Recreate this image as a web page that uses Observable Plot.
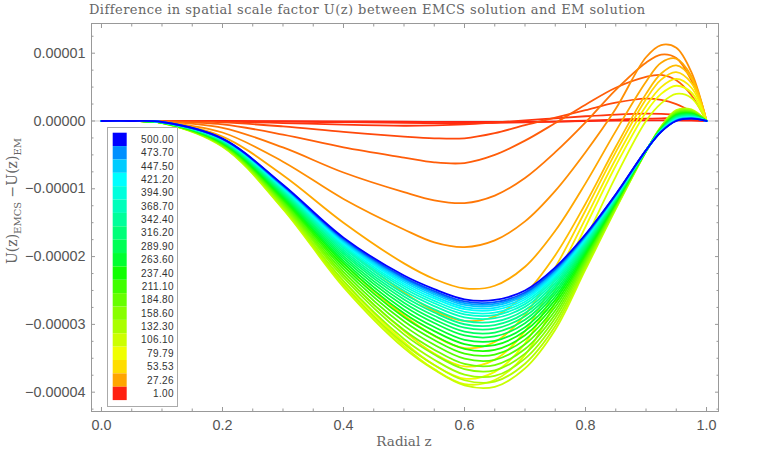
<!DOCTYPE html>
<html><head><meta charset="utf-8">
<script src="https://cdn.jsdelivr.net/npm/d3@7"></script>
<script src="https://cdn.jsdelivr.net/npm/@observablehq/plot@0.6"></script>
<style>
body{margin:0;background:#fff;}
#title{height:18px;font:13px "DejaVu Serif",serif;letter-spacing:0.45px;color:#666;padding-left:89px;line-height:20px;white-space:nowrap}
</style></head><body>
<div id="title">Difference in spatial scale factor U(z) between EMCS solution and EM solution</div>
<div id="chart"></div>
<script>
// radial positions
const zGrid = [0, 0.05, 0.1, 0.2, 0.3, 0.4, 0.5, 0.55, 0.6, 0.65, 0.7, 0.75, 0.8, 0.85, 0.9, 0.925, 0.95, 0.975, 1];
// parameter value of each curve
const params = [1, 3, 5, 9, 13, 18, 23, 28, 38, 50, 64, 80, 95,
  110, 127, 144, 161, 178, 195, 212, 229, 246, 263, 280, 297, 314, 331, 348, 365, 382, 399, 416, 433, 450, 467, 484, 500];
// U(z)_EMCS - U(z)_EM, in units of 1e-6, one row per curve
const curveValues = [
  [0,0,0,0,-0.02,-0.05,-0.1,-0.13,-0.15,-0.14,-0.12,-0.08,-0.02,0.05,0.1,0.1,0.08,0.05,0],
  [0,0,0,-0.02,-0.08,-0.18,-0.28,-0.3,-0.3,-0.26,-0.2,-0.1,0.05,0.2,0.35,0.4,0.38,0.25,0],
  [0,0,-0.01,-0.1,-0.3,-0.55,-0.7,-0.65,-0.5,-0.22,0.1,0.4,0.7,0.95,1.1,1.05,0.9,0.55,0],
  [0,0,-0.02,-0.2,-0.8,-1.6,-2.3,-2.55,-2.55,-1.8,-0.6,0.5,1.6,2.7,3.3,3.1,2.5,1.4,0],
  [0,0,-0.05,-0.5,-2.0,-3.9,-5.4,-6.1,-6.2,-5.0,-2.9,-0.3,2.4,4.9,6.5,6.8,6.0,3.8,0],
  [0,0,-0.1,-1.0,-3.9,-7.6,-10.5,-11.7,-12.1,-11.0,-8.4,-4.6,-0.2,4.6,8.6,9.8,9.3,6.0,0],
  [0,0,-0.15,-1.7,-6.0,-11.5,-16.0,-17.9,-18.6,-17.6,-14.8,-10.3,-4.6,1.8,9.4,11.2,10.8,7.2,0],
  [0,0,-0.15,-2.3,-8.0,-15.0,-21.0,-23.3,-24.7,-24.3,-21.5,-16.2,-9.2,-1.5,5.8,8.6,9.2,6.6,0],
  [0,0,-0.2,-2.8,-10.0,-18.5,-25.3,-28.0,-29.5,-28.8,-25.5,-19.8,-12.2,-3.8,4.0,7.0,8.2,6.3,0],
  [0,0,-0.22,-3.1,-11.3,-21.0,-28.7,-31.7,-33.5,-32.6,-28.6,-21.6,-13.2,-4.6,3.2,6.1,7.2,5.6,0],
  [0,0,-0.25,-3.4,-12.2,-22.7,-31.0,-34.3,-36.2,-35.2,-31.0,-23.2,-14.4,-5.6,2.2,5.0,6.2,4.9,0],
  [0,0,-0.27,-3.6,-12.7,-23.7,-32.6,-36.0,-38.0,-37.0,-32.8,-24.8,-15.6,-6.6,1.3,4.0,5.2,4.2,0],
  [0,0,-0.29,-3.7,-12.9,-24.2,-33.2,-36.6,-38.8,-38.2,-34.5,-26.8,-17.5,-8.2,0.0,2.6,4.0,3.4,0],
  [0,0,-0.3,-3.8,-13.0,-24.5,-33.5,-36.7,-39.0,-39.2,-36.5,-30.8,-21.9,-13.0,-4.5,-0.8,1.6,1.7,0],
  [0,0,-0.29,-3.73,-12.78,-24.06,-32.86,-35.99,-38.24,-38.43,-35.81,-30.25,-21.59,-12.87,-4.49,-0.85,1.5,1.62,0],
  [0,0,-0.28,-3.65,-12.55,-23.59,-32.16,-35.21,-37.41,-37.6,-35.06,-29.65,-21.25,-12.73,-4.48,-0.9,1.4,1.53,0],
  [0,0,-0.27,-3.57,-12.32,-23.11,-31.47,-34.44,-36.59,-36.77,-34.32,-29.05,-20.91,-12.58,-4.46,-0.95,1.3,1.44,0],
  [0,0,-0.26,-3.5,-12.1,-22.68,-30.83,-33.73,-35.83,-36.0,-33.63,-28.5,-20.6,-12.45,-4.45,-1.0,1.2,1.36,0],
  [0,0,-0.25,-3.43,-11.88,-22.24,-30.18,-33.01,-35.06,-35.23,-32.94,-27.95,-20.29,-12.32,-4.44,-1.05,1.1,1.28,0],
  [0,0,-0.24,-3.36,-11.67,-21.8,-29.54,-32.3,-34.3,-34.46,-32.25,-27.4,-19.98,-12.19,-4.43,-1.1,1.01,1.2,0],
  [0,0,-0.24,-3.29,-11.47,-21.4,-28.95,-31.64,-33.6,-33.76,-31.61,-26.89,-19.69,-12.07,-4.42,-1.14,0.92,1.13,0],
  [0,0,-0.23,-3.22,-11.27,-21.0,-28.36,-30.99,-32.9,-33.06,-30.98,-26.38,-19.4,-11.94,-4.4,-1.18,0.83,1.05,0],
  [0,0,-0.22,-3.16,-11.09,-20.63,-27.83,-30.39,-32.27,-32.42,-30.41,-25.92,-19.14,-11.83,-4.39,-1.22,0.75,0.98,0],
  [0,0,-0.21,-3.1,-10.91,-20.27,-27.29,-29.8,-31.63,-31.78,-29.83,-25.46,-18.88,-11.72,-4.38,-1.26,0.67,0.92,0],
  [0,0,-0.21,-3.05,-10.75,-19.94,-26.81,-29.26,-31.06,-31.2,-29.31,-25.05,-18.65,-11.63,-4.38,-1.3,0.6,0.86,0],
  [0,0,-0.2,-3.0,-10.59,-19.61,-26.33,-28.73,-30.49,-30.62,-28.8,-24.64,-18.42,-11.53,-4.37,-1.34,0.53,0.8,0],
  [0,0,-0.19,-2.95,-10.44,-19.32,-25.9,-28.25,-29.98,-30.11,-28.34,-24.27,-18.21,-11.44,-4.36,-1.37,0.46,0.74,0],
  [0,0,-0.19,-2.9,-10.3,-19.03,-25.48,-27.78,-29.48,-29.6,-27.88,-23.9,-18.0,-11.35,-4.35,-1.4,0.4,0.69,0],
  [0,0,-0.18,-2.85,-10.16,-18.73,-25.05,-27.3,-28.97,-29.09,-27.42,-23.53,-17.79,-11.26,-4.34,-1.43,0.34,0.63,0],
  [0,0,-0.18,-2.81,-10.03,-18.48,-24.67,-26.88,-28.52,-28.64,-27.01,-23.21,-17.61,-11.19,-4.34,-1.46,0.28,0.59,0],
  [0,0,-0.17,-2.77,-9.92,-18.26,-24.35,-26.53,-28.14,-28.26,-26.67,-22.93,-17.45,-11.12,-4.33,-1.48,0.23,0.55,0],
  [0,0,-0.17,-2.74,-9.81,-18.04,-24.03,-26.17,-27.76,-27.87,-26.32,-22.66,-17.3,-11.05,-4.32,-1.51,0.18,0.51,0],
  [0,0,-0.16,-2.71,-9.72,-17.86,-23.76,-25.87,-27.44,-27.55,-26.04,-22.43,-17.17,-11.0,-4.32,-1.53,0.14,0.47,0],
  [0,0,-0.16,-2.68,-9.63,-17.67,-23.5,-25.57,-27.13,-27.23,-25.75,-22.2,-17.04,-10.94,-4.31,-1.55,0.1,0.44,0],
  [0,0,-0.16,-2.65,-9.56,-17.53,-23.28,-25.34,-26.87,-26.98,-25.52,-22.01,-16.93,-10.9,-4.31,-1.56,0.07,0.41,0],
  [0,0,-0.15,-2.63,-9.49,-17.38,-23.07,-25.1,-26.62,-26.72,-25.29,-21.83,-16.83,-10.86,-4.31,-1.58,0.04,0.38,0],
  [0,0,-0.15,-2.6,-9.4,-17.2,-22.8,-24.8,-26.3,-26.4,-25.0,-21.6,-16.7,-10.8,-4.3,-1.6,0,0.35,0]
];
// legend
const legendValues = [1, 27.26, 53.53, 79.79, 106.1, 132.3, 158.6, 184.8, 211.1, 237.4, 263.6, 289.9, 316.2, 342.4, 368.7, 394.9, 421.2, 447.5, 473.7, 500];
const legendLabels = ["1.00","27.26","53.53","79.79","106.10","132.30","158.60","184.80","211.10","237.40","263.60","289.90","316.20","342.40","368.70","394.90","421.20","447.50","473.70","500.00"];
const legendColors = ["#ff2010","#ffa500","#ffdd00","#f0ff00","#ccff00","#aaff00","#88ff00","#66ff00","#40ff00","#10ff00","#00ff30","#00ff55","#00ff78","#00ff9a","#00ffbb","#00ffdd","#00ffff","#00ccff","#0090ff","#0000ff"];
// ticks
const xMajorTicks = [0, 0.2, 0.4, 0.6, 0.8, 1.0];
const xMinorTicks = [0.05, 0.1, 0.15, 0.25, 0.3, 0.35, 0.45, 0.5, 0.55, 0.65, 0.7, 0.75, 0.85, 0.9, 0.95];
const yMajorTicks = [10, 0, -10, -20, -30, -40];
const yMinorTicks = [12.5, 7.5, 5, 2.5, -2.5, -5, -7.5, -12.5, -15, -17.5, -22.5, -25, -27.5, -32.5, -35, -37.5, -42.5];

const rows = [];
params.forEach((p, i) => zGrid.forEach((z, j) => rows.push({p, z, u: curveValues[i][j]})));

const fmtY = d => d3.format(".5f")(d / 1e6);
const tickCol = "#999";
const noText = () => "";

const plot = Plot.plot({
  width: 763, height: 444,
  marginTop: 5, marginBottom: 51, marginLeft: 91, marginRight: 45,
  style: {fontFamily: '"Liberation Sans", Arial, sans-serif', fontSize: "14.4px", color: "#555", background: "white"},
  x: {domain: [-0.0165, 1.0198]},
  y: {domain: [-42.85, 14.38]},
  color: {type: "linear", domain: legendValues, range: legendColors},
  marks: [
    Plot.ruleY([0], {stroke: "#cfcfcf"}),
    Plot.line(rows, {x: "z", y: "u", z: "p", stroke: "p", curve: "catmull-rom", strokeWidth: 1.8}),
    Plot.frame({stroke: tickCol}),
    Plot.axisX(xMajorTicks, {anchor: "bottom", tickSize: 0, tickPadding: 8, tickFormat: d3.format(".1f"), label: null}),
    Plot.axisX(xMajorTicks, {anchor: "bottom", tickSize: -4, tickFormat: noText, label: null, stroke: tickCol}),
    Plot.axisX(xMinorTicks, {anchor: "bottom", tickSize: -2.5, tickFormat: noText, label: null, stroke: tickCol}),
    Plot.axisX(xMajorTicks, {anchor: "top", tickSize: -4, tickFormat: noText, label: null, stroke: tickCol}),
    Plot.axisX(xMinorTicks, {anchor: "top", tickSize: -2.5, tickFormat: noText, label: null, stroke: tickCol}),
    Plot.axisY(yMajorTicks, {anchor: "left", tickSize: 0, tickPadding: 6, tickFormat: fmtY, label: null}),
    Plot.axisY(yMajorTicks, {anchor: "left", tickSize: -4, tickFormat: noText, label: null, stroke: tickCol}),
    Plot.axisY(yMinorTicks, {anchor: "left", tickSize: -2.5, tickFormat: noText, label: null, stroke: tickCol}),
    Plot.axisY(yMajorTicks, {anchor: "right", tickSize: -4, tickFormat: noText, label: null, stroke: tickCol}),
    Plot.axisY(yMinorTicks, {anchor: "right", tickSize: -2.5, tickFormat: noText, label: null, stroke: tickCol})
  ]
});
document.getElementById("chart").appendChild(plot);

const svg = d3.select(plot);
const color = plot.scale("color");
// axis titles
svg.append("text").attr("x", 404).attr("y", 428).attr("text-anchor", "middle")
  .attr("font-family", '"DejaVu Serif", serif').attr("font-size", 13.5).attr("fill", "#666").text("Radial z");
const yl = svg.append("text").attr("transform", "translate(17,183) rotate(-90)").attr("text-anchor", "middle")
  .attr("font-family", '"DejaVu Serif", serif').attr("font-size", 14).attr("fill", "#666");
yl.append("tspan").text("U(z)");
yl.append("tspan").attr("font-size", 10).attr("dy", 3.5).text("EMCS");
yl.append("tspan").attr("dy", -3.5).text(" \u2212U(z)");
yl.append("tspan").attr("font-size", 10).attr("dy", 3.5).text("EM");

// legend box
const lg = svg.append("g");
lg.append("rect").attr("x", 107.5).attr("y", 109.5).attr("width", 70).attr("height", 279)
  .attr("fill", "white").attr("stroke", "#aaa");
const order = legendValues.map((v, i) => i).reverse();
const sh = 13.37;
order.forEach((i, k) => {
  lg.append("rect").attr("x", 112.7).attr("y", 114.7 + k * sh).attr("width", 14).attr("height", sh)
    .attr("fill", color.apply(legendValues[i]));
  lg.append("text").attr("x", 174).attr("y", 114.7 + k * sh + sh / 2).attr("dy", "0.35em")
    .attr("text-anchor", "end").attr("font-size", 10).attr("letter-spacing", 0.4).attr("fill", "#333")
    .text(legendLabels[i]);
});
</script>
</body></html>
